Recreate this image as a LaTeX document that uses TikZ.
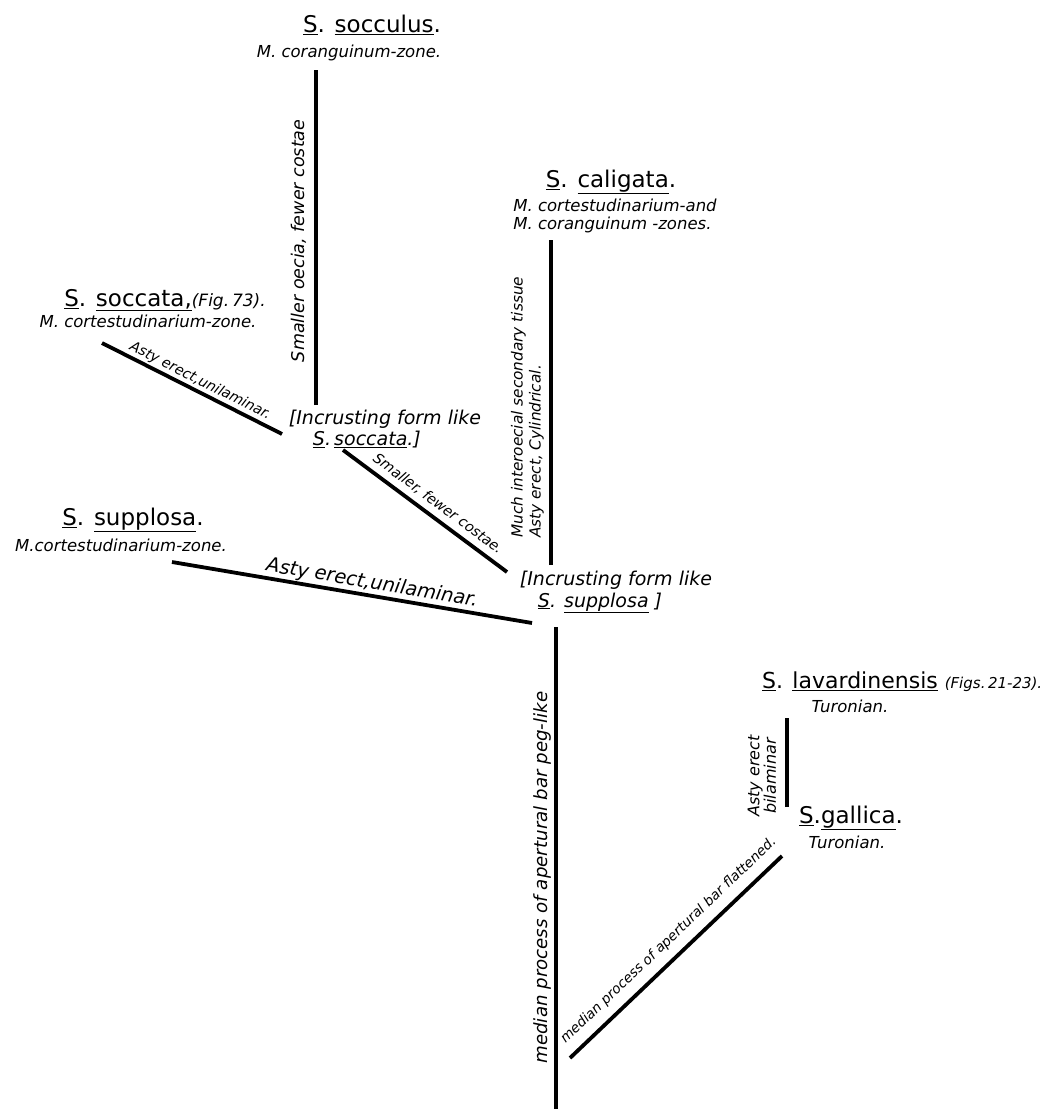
\documentclass[tikz,border=0pt]{standalone}
\usepackage{fontspec}
\setmainfont{DejaVu Sans}
\usetikzlibrary{positioning}

\begin{document}
\begin{tikzpicture}[x=1pt, y=-1pt]

 \tikzset{
   taxon/.style={inner sep=0pt, font=\fontsize{23}{26}\selectfont},
   zone/.style={inner sep=0pt, font=\fontsize{16.5}{18}\selectfont\itshape},
   form/.style={inner sep=0pt, align=left, font=\fontsize{19}{21.5}\selectfont\itshape},
   lbl/.style={inner sep=0pt, font=\fontsize{#1}{#1}\selectfont\itshape},
   branch/.style={line width=3.8pt}
 }

 \useasboundingbox[fill=white] (0,0) rectangle (1051,1109);

 % Species and horizons
 \node[taxon] (socculus) at (372,25) {\underline{S}. \underline{socculus}.};
 \node[zone] (socculus_z) at (349,53) {M. coranguinum-zone.};
 \node[taxon] (soccata) at (165,300) {\underline{S}. \underline{soccata,}{\itshape\fontsize{17}{17}\selectfont(Fig.\,73).}};
 \node[zone] (soccata_z) at (148,321) {M. cortestudinarium-zone.};
 \node[taxon] (caligata) at (611,182) {\underline{S}. \underline{caligata}.};
 \node[zone, align=left] (caligata_z) at (615,216) {M. cortestudinarium-and\\M. coranguinum -zones.};
 \node[taxon] (supplosa) at (133,520) {\underline{S}. \underline{supplosa}.};
 \node[zone] (supplosa_z) at (121,545) {M.cortestudinarium-zone.};
 \node[taxon, anchor=west, font=\fontsize{22}{26}\selectfont] (lavard) at (762,682) {\underline{S}. \underline{lavardinensis} {\itshape\fontsize{15}{15}\selectfont(Figs.\,21-23).}};
 \node[zone] (lavard_z) at (850,706) {Turonian.};
 \node[taxon] (gallica) at (851,818) {\underline{S}.\underline{gallica}.};
 \node[zone] (gallica_z) at (847,842) {Turonian.};

 % Incrusting forms
 \node[form] (incr_soccata) at (385,429) {[Incrusting form like\\\hspace*{24pt}\underline{S}.\,\underline{soccata}.]};
 \node[form] (incr_supplosa) at (616,592) {[Incrusting form like\\\hspace*{18pt}\underline{S}. \underline{supplosa} ]};

 % Branch ends
 \coordinate (socculus_top) at (316,70);
 \coordinate (socculus_bot) at (316,405);
 \coordinate (soccata_end) at (102,343);
 \coordinate (soccata_jn) at (282,434);
 \coordinate (incr_out) at (343,450);
 \coordinate (incr_in) at (507,572);
 \coordinate (caligata_top) at (551,240);
 \coordinate (caligata_bot) at (551,565);
 \coordinate (supplosa_end) at (172,562);
 \coordinate (supplosa_jn) at (532,623);
 \coordinate (trunk_top) at (556,627);
 \coordinate (trunk_bot) at (556,1109);
 \coordinate (gallica_low) at (570,1058);
 \coordinate (gallica_high) at (782,856);
 \coordinate (lavard_top) at (787,718);
 \coordinate (lavard_bot) at (787,807);

 % Branches
 \draw[branch] (socculus_bot) -- (socculus_top)
   node[lbl=17.5, sloped, above=8pt, pos=0.49] (socculus_lbl) {Smaller oecia, fewer costae};
 \draw[branch] (soccata_end) -- (soccata_jn)
   node[lbl=14.2, sloped, above=1.5pt, pos=0.52] (soccata_lbl) {Asty erect,unilaminar.};
 \draw[branch] (incr_out) -- (incr_in)
   node[lbl=14.2, sloped, above=5.5pt, pos=0.53] (incr_lbl) {Smaller, fewer costae.};
 \draw[branch] (supplosa_end) -- (supplosa_jn)
   node[lbl=19.5, sloped, above=1pt, pos=0.55] (supplosa_lbl) {Asty erect,unilaminar.};
 \draw[branch] (caligata_bot) -- (caligata_top);
 \draw[branch] (trunk_bot) -- (trunk_top)
   node[lbl=18.2, sloped, above=3pt, pos=0.48] (trunk_lbl) {median process of apertural bar peg-like};
 \draw[branch] (gallica_low) -- (gallica_high)
   node[lbl=13.7, sloped, above=8.5pt, pos=0.52] (gallica_lbl) {median process of apertural bar flattened.};
 \draw[branch] (lavard_bot) -- (lavard_top);

 % Vertical notes
 \node[lbl=15.3, font=\fontsize{15.3}{18}\selectfont\itshape, rotate=90, anchor=south west, align=left] (caligata_lbl) at (544,538) {Much interoecial secondary tissue\\Asty erect, Cylindrical.};
 \node[lbl=16, font=\fontsize{16}{15}\selectfont\itshape, rotate=90, align=center] (lavard_lbl) at (762,776) {Asty erect\\bilaminar};

\end{tikzpicture}
\end{document}
